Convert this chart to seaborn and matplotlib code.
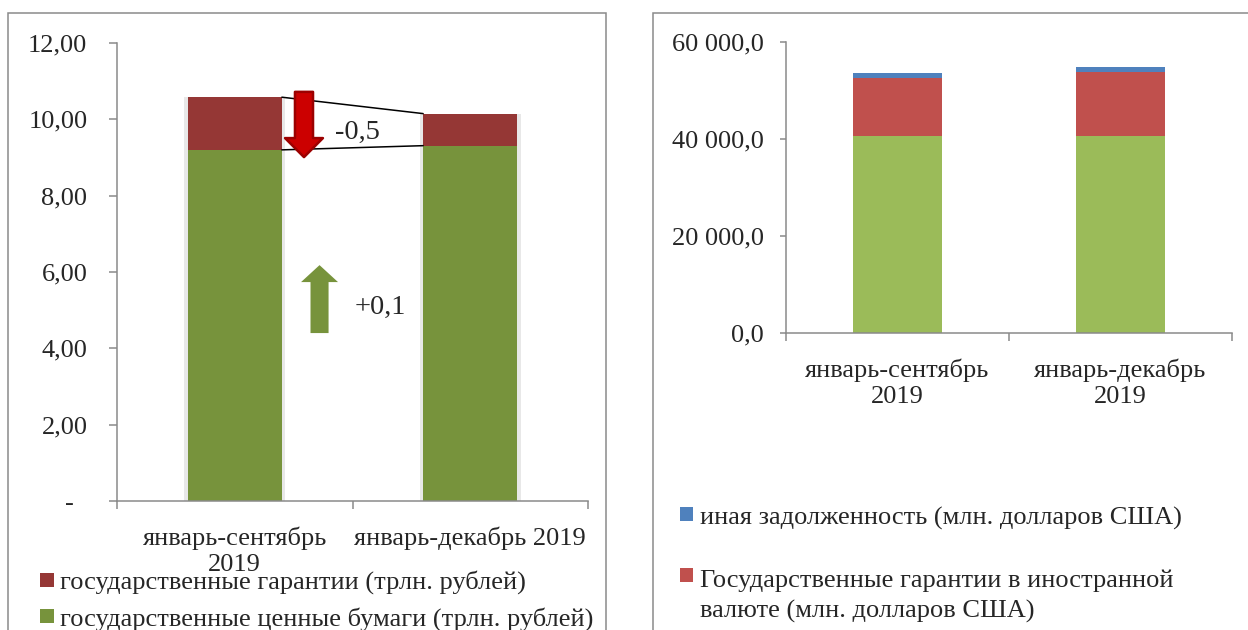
import pandas as pd
import matplotlib.pyplot as plt
import seaborn as sns
from matplotlib.patches import Rectangle, FancyArrowPatch

# Setup style
sns.set_theme(style="ticks")
plt.rcParams["font.family"] = ["Liberation Serif", "DejaVu Serif"]

W, H = 1248, 630
FS = 19

# Colors
GREEN_DARK = "#77933C"
RED_DARK = "#953735"
GREEN = "#9BBB59"
RED = "#C0504D"
BLUE = "#4F81BD"
GREY = "#8A8A8A"
SHADOW = "#E8E8E8"

# Data
periods = ["январь-сентябрь 2019", "январь-декабрь 2019"]
left_tick_labels = ["январь-сентябрь\n2019", "январь-декабрь 2019"]
right_tick_labels = ["январь-сентябрь\n2019", "январь-декабрь\n2019"]

# left chart, trillion rubles
gov_securities = [9.20, 9.31]
gov_guarantees = [1.38, 0.84]

# right chart, million USD
fx_securities = [40620, 40680]
fx_guarantees = [12020, 13200]
other_debt = [1030, 1030]

left_yticks = [0, 2, 4, 6, 8, 10, 12]
right_yticks = [0, 20000, 40000, 60000]

left_legend = ["государственные гарантии (трлн. рублей)",
               "государственные ценные бумаги (трлн. рублей)"]
right_legend = ["иная задолженность (млн. долларов США)",
                "Государственные гарантии в иностранной\nвалюте (млн. долларов США)"]

df_left = pd.DataFrame({"period": periods, "securities": gov_securities,
                        "guarantees": gov_guarantees})
df_left["total"] = df_left["securities"] + df_left["guarantees"]

df_right = pd.DataFrame({"period": periods, "securities": fx_securities,
                         "guarantees": fx_guarantees, "other": other_debt})
df_right["sec_gua"] = df_right["securities"] + df_right["guarantees"]
df_right["total"] = df_right["sec_gua"] + df_right["other"]


def px(x, y):
    return x / W, 1 - y / H


fig = plt.figure(figsize=(W / 100, H / 100), dpi=100)
ax1 = fig.add_axes([117 / W, 1 - 501 / H, 471 / W, 458 / H])
ax2 = fig.add_axes([786 / W, 1 - 333 / H, 446 / W, 291 / H])

bar_kw = dict(x="period", order=periods, errorbar=None, saturation=1, linewidth=0)

# 1. Left chart - stacked by overlaying cumulative heights
sns.barplot(data=df_left, y="total", color=SHADOW, width=0.43, ax=ax1, **bar_kw)
sns.barplot(data=df_left, y="total", color=RED_DARK, width=0.4, ax=ax1, **bar_kw)
sns.barplot(data=df_left, y="securities", color=GREEN_DARK, width=0.4, ax=ax1, **bar_kw)

# connector lines between bars
ax1.plot([0.2, 0.8], df_left["total"], color="black", lw=1.1, zorder=4)
ax1.plot([0.2, 0.8], df_left["securities"], color="black", lw=1.1, zorder=4)

d_gua = gov_guarantees[1] - gov_guarantees[0]
d_sec = gov_securities[1] - gov_securities[0]

red_arrow = FancyArrowPatch((0.294, 10.72), (0.294, 9.01),
                            arrowstyle="simple,head_length=1.37,head_width=2.73,tail_width=1.3",
                            mutation_scale=10, fc="#CC0000", ec="#9C0000", lw=1.8,
                            shrinkA=0, shrinkB=0, zorder=5)
ax1.add_patch(red_arrow)
green_arrow = FancyArrowPatch((0.36, 4.40), (0.36, 6.18),
                              arrowstyle="simple,head_length=1.22,head_width=2.66,tail_width=1.3",
                              mutation_scale=10, fc=GREEN_DARK, ec="none",
                              shrinkA=0, shrinkB=0, zorder=5)
ax1.add_patch(green_arrow)

ax1.text(0.52, 9.67, f"{d_gua:+.1f}".replace(".", ","), ha="center", va="center",
         fontsize=20.5, zorder=6)
ax1.text(0.617, 5.06, f"{d_sec:+.1f}".replace(".", ","), ha="center", va="center",
         fontsize=20.5, zorder=6)

ax1.set_ylim(0, 12)
ax1.set_yticks(left_yticks)
ax1.set_yticklabels([f"{v:.2f}".replace(".", ",") if v else "-  " for v in left_yticks])
ax1.tick_params(axis="y", length=5.8, width=1.1, color=GREY, pad=15.5, labelsize=FS)

# 2. Right chart
sns.barplot(data=df_right, y="total", color=BLUE, width=0.4, ax=ax2, **bar_kw)
sns.barplot(data=df_right, y="sec_gua", color=RED, width=0.4, ax=ax2, **bar_kw)
sns.barplot(data=df_right, y="securities", color=GREEN, width=0.4, ax=ax2, **bar_kw)

ax2.set_ylim(0, 60000)
ax2.set_yticks(right_yticks)
ax2.set_yticklabels([f"{v:,.1f}".replace(",", " ").replace(".", ",") for v in right_yticks])
ax2.tick_params(axis="y", length=4.3, width=1.1, color=GREY, pad=11.5, labelsize=FS)

# common axis styling
for ax, labels in [(ax1, left_tick_labels), (ax2, right_tick_labels)]:
    ax.set_xlim(-0.5, 1.5)
    ax.set_xlabel("")
    ax.set_ylabel("")
    ax.set_xticks([-0.5, 0.5, 1.5])
    ax.set_xticklabels([])
    ax.set_xticks([0, 1], labels, minor=True)
    ax.tick_params(axis="x", which="major", length=5.6, width=1.1, color=GREY)
    ax.tick_params(axis="x", which="minor", length=0, pad=18.5, labelsize=FS)
    for lbl in ax.get_xticklabels(minor=True):
        lbl.set_linespacing(1.2)
    ax.spines[["top", "right"]].set_visible(False)
    for s in ["left", "bottom"]:
        ax.spines[s].set_color(GREY)
        ax.spines[s].set_linewidth(1.1)

# panel borders
fig.add_artist(Rectangle(px(8, 700), (606 - 8) / W, (700 - 13) / H,
                         transform=fig.transFigure, fill=False, ec=GREY, lw=1.1))
fig.add_artist(Rectangle(px(653, 700), (1300 - 653) / W, (700 - 13) / H,
                         transform=fig.transFigure, fill=False, ec=GREY, lw=1.1))

# legends: square + text lines drawn by baseline
legend_items = [
    (40, 573, 60, 589, RED_DARK, left_legend[0]),
    (40, 609, 60, 626, GREEN_DARK, left_legend[1]),
    (680, 507, 700, 525, BLUE, right_legend[0]),
    (680, 568, 700, 587, RED, right_legend[1]),
]
for sx, sy, tx, ty, col, label in legend_items:
    fig.add_artist(Rectangle(px(sx, sy + 13.5), 13.5 / W, 13.5 / H,
                             transform=fig.transFigure, fc=col, ec="none"))
    for i, line in enumerate(label.split("\n")):
        fig.text(*px(tx, ty + 31 * i), line, fontsize=FS, va="baseline", ha="left")

fig.savefig("out.png", dpi=100)
plt.close(fig)
